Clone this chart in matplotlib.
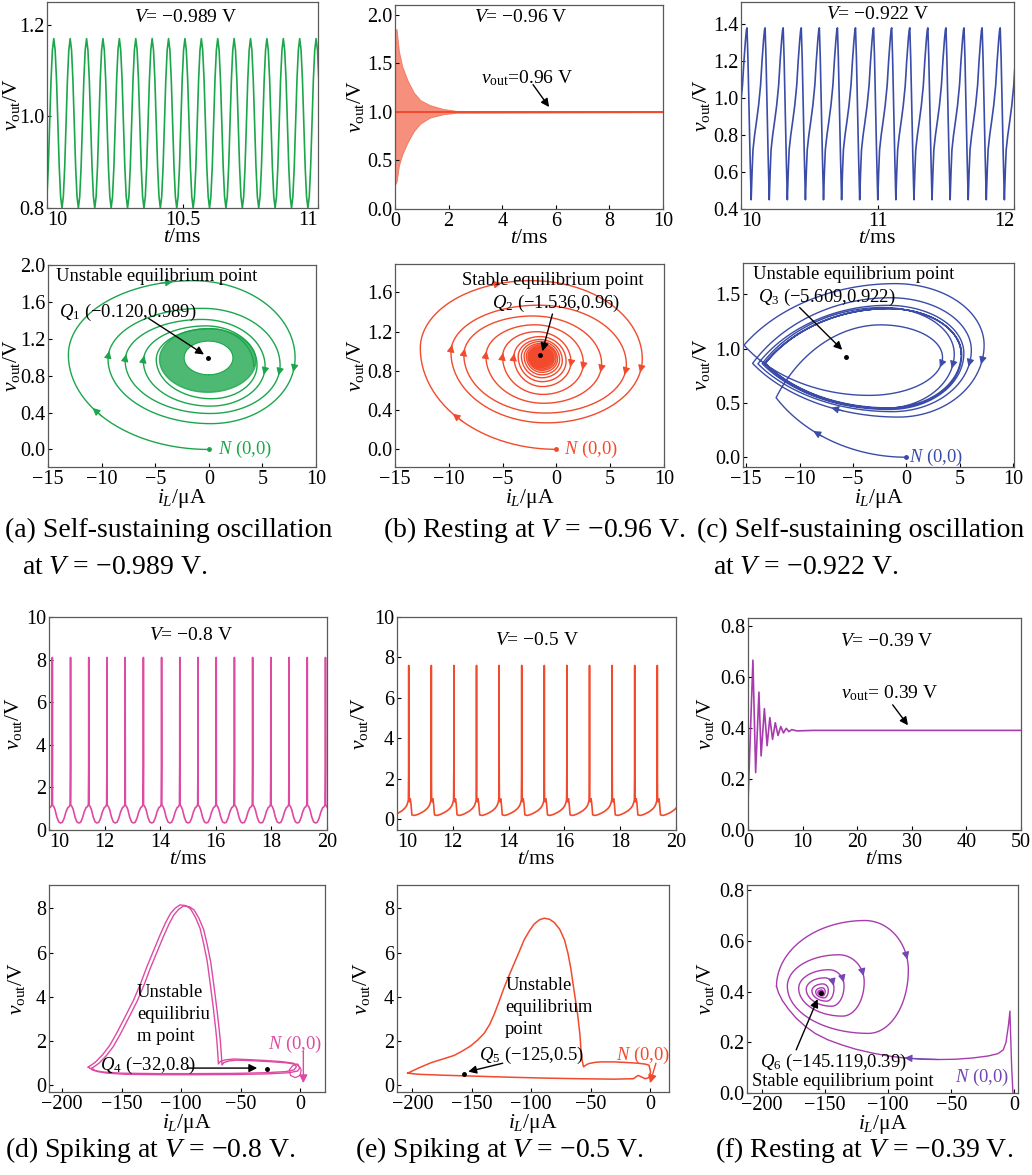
import numpy as np
import matplotlib
matplotlib.use("Agg")
import matplotlib.pyplot as plt

plt.rcParams.update({
    "font.family": ["Liberation Serif", "DejaVu Serif"],
    "mathtext.fontset": "custom",
    "mathtext.rm": "Liberation Serif",
    "mathtext.it": "Liberation Serif:italic",
    "mathtext.bf": "Liberation Serif:bold",
    "axes.unicode_minus": True,
})

GREEN = "#1ca64c"
RED = "#f24a2c"
BLUE = "#3a4ca8"
PINK = "#de4aa3"
PURPLE = "#a83cae"
PURPLE_ARROW = "#7246b4"

# ---- time series (one period, repeated) ----
a_t0, a_period = 10.025, 0.0605
a_phase = [0, 0.083, 0.167, 0.25, 0.333, 0.417, 0.5, 0.583, 0.667, 0.75, 0.833, 0.917]
a_shape = [1.17, 1.145, 1.08, 0.985, 0.89, 0.825, 0.80, 0.825, 0.89, 0.985, 1.08, 1.145]

b_env_t = [0, 0.06, 0.15, 0.27, 0.46, 0.7, 0.95, 1.3, 1.8, 2.3, 10]
b_env_hi = [1.85, 1.85, 1.62, 1.47, 1.33, 1.2, 1.12, 1.07, 1.03, 1.01, 1.005]
b_env_lo = [0.25, 0.28, 0.45, 0.56, 0.68, 0.8, 0.88, 0.94, 0.975, 0.99, 0.995]
b_steady = 1.0

c_t0, c_period = 10.044, 0.1325
c_phase = [0, 0.05, 0.11, 0.17, 0.23, 0.28, 0.33, 0.42, 0.52, 0.64, 0.75, 0.83, 0.92, 0.97]
c_shape = [1.38, 1.22, 0.95, 0.68, 0.45, 0.6, 0.72, 0.80, 0.87, 0.96, 1.07, 1.2, 1.32, 1.37]

d_t0, d_period = 10.12, 0.655
d_phase = [0, 0.004, 0.01, 0.03, 0.08, 0.15, 0.25, 0.35, 0.45, 0.55, 0.65, 0.75, 0.85, 0.93, 0.98, 0.995]
d_shape = [8.1, 3.0, 1.2, 1.15, 1.1, 0.95, 0.6, 0.38, 0.33, 0.36, 0.55, 0.85, 1.05, 1.1, 1.2, 3.0]

e_t0, e_period = 10.42, 0.81
e_phase = [0, 0.004, 0.012, 0.04, 0.07, 0.1, 0.14, 0.25, 0.4, 0.55, 0.7, 0.82, 0.9, 0.95, 0.985, 0.996]
e_shape = [7.6, 2.5, 0.95, 0.85, 1.0, 0.75, 0.2, 0.17, 0.22, 0.3, 0.4, 0.52, 0.64, 0.78, 0.95, 2.5]

f_ts_t = [0, 0.9, 1.4, 2.0, 2.4, 3.0, 3.5, 4.0, 4.5, 5.0, 5.5, 6.0, 6.5, 7.0, 7.5, 8.0, 9.0, 12, 50]
f_ts_v = [0.11, 0.665, 0.225, 0.54, 0.29, 0.475, 0.33, 0.44, 0.355, 0.42, 0.37, 0.405, 0.38,
          0.398, 0.385, 0.393, 0.388, 0.39, 0.39]

# ---- phase portraits: extremes of every loop (bottom, left, top, right) ----
a_bottom = [0.0, 0.28, 0.39, 0.47, 0.55]
a_left = [-13.1, -9.4, -7.8, -6.1, -4.9]
a_top = [1.83, 1.53, 1.41, 1.34, 1.31]
a_right = [8.05, 6.65, 5.25, 4.5, 4.2]
a_ring_outer = [-4.6, 1.31, 4.4, 0.62]
a_ring_inner = [-2.3, 1.175, 2.25, 0.81]

b_left = [-12.65, -9.8, -8.6, -6.55, -5.0, -3.95, -3.55, -3.25, -3.0, -2.8, -2.65, -2.52, -2.42,
          -2.33, -2.25, -2.18, -2.12, -2.06, -2.0, -1.95, -1.9, -1.84, -1.78, -1.72, -1.66, -1.6]
b_top = [1.72, 1.47, 1.36, 1.27, 1.2, 1.15, 1.12, 1.1, 1.08, 1.065, 1.05, 1.04, 1.03, 1.02, 1.012,
         1.005, 0.998, 0.992, 0.987, 0.983, 0.979, 0.975, 0.971, 0.968, 0.965, 0.962]
b_right = [7.98, 6.5, 4.2, 2.5, 1.35, 0.9, 0.55, 0.3, 0.1, -0.05, -0.2, -0.32, -0.43, -0.53, -0.62,
           -0.7, -0.78, -0.85, -0.92, -0.98, -1.05, -1.12, -1.2, -1.28, -1.35, -1.42]
b_bottom = [0.0, 0.27, 0.37, 0.47, 0.56, 0.64, 0.69, 0.73, 0.76, 0.785, 0.805, 0.82, 0.835, 0.848,
            0.86, 0.87, 0.88, 0.89, 0.9, 0.91, 0.92, 0.928, 0.936, 0.943, 0.95, 0.955]

c_bottom = [0.0, 0.57, 0.37, 0.42, 0.44, 0.45, 0.45, 0.455]
c_left = [-12.2, -15.2, -14.4, -13.9, -13.5, -13.3, -13.2, -13.2]
c_top = [1.22, 1.60, 1.47, 1.40, 1.38, 1.37, 1.37, 1.37]
c_right = [3.4, 7.3, 6.1, 5.4, 4.5, 5.2, 5.15, 5.15]

d_loop_x = [-178, -172, -166, -160, -154, -147, -140, -134, -129, -123, -117.6, -113, -109, -105,
            -101, -96, -92, -88, -84, -81, -78, -75.5, -73, -71, -70, -69.2, -68.6, -67, -63, -56,
            -42, -28, -15, -5.6, -3, -5, -12, -30, -56, -90, -120, -150, -165, -174, -178]
d_loop_y = [0.82, 1.05, 1.38, 1.8, 2.37, 3.1, 3.84, 4.6, 5.32, 6.1, 6.8, 7.35, 7.75, 8.0, 8.15,
            8.12, 7.97, 7.6, 7.09, 6.4, 5.6, 4.6, 3.55, 2.6, 2.07, 1.5, 0.97, 1.08, 1.15, 1.19,
            1.16, 1.12, 1.07, 1.0, 0.85, 0.7, 0.62, 0.57, 0.54, 0.53, 0.53, 0.55, 0.6, 0.68, 0.82]
d_curl_x = [-2, -6, -9, -8, -4, 0, 1, -2]
d_curl_y = [0.95, 0.9, 0.7, 0.45, 0.35, 0.45, 0.7, 0.95]

e_loop_x = [-204, -195, -184, -175, -165, -158, -151, -145, -139.5, -135, -131, -127, -123, -118.5,
            -114, -110, -106, -101.5, -97.5, -93, -89, -84.5, -80.7, -76, -72, -69, -66.6, -64, -61,
            -59, -58, -57, -56, -53, -51, -46, -41.5, -30, -19, -10, -4, -0.8, 0.5, -1, -4, -10,
            -14, -30, -60, -90, -120, -150, -175, -195, -204]
e_loop_y = [0.55, 0.78, 1.03, 1.18, 1.35, 1.55, 1.78, 2.05, 2.36, 2.75, 3.23, 3.8, 4.39, 4.98,
            5.55, 6.05, 6.57, 6.98, 7.29, 7.48, 7.55, 7.5, 7.36, 7.05, 6.57, 5.95, 5.26, 4.3, 3.23,
            2.3, 1.5, 1.1, 0.84, 0.95, 0.99, 1.04, 1.06, 1.06, 1.03, 1.0, 0.96, 0.91, 0.6, 0.35,
            0.3, 0.45, 0.3, 0.28, 0.3, 0.33, 0.37, 0.42, 0.46, 0.5, 0.55]

f_tr_x = [-1.0, -2.0, -3.0, -3.4, -4.5, -6.5, -8.7, -13, -20.6, -33, -47, -60, -74, -87, -100,
          -113, -126, -137, -148, -158, -166, -173, -179, -184, -187, -188.6]
f_tr_y = [0.0, 0.1, 0.25, 0.323, 0.27, 0.2, 0.17, 0.155, 0.146, 0.138, 0.133, 0.132, 0.133, 0.138,
          0.146, 0.158, 0.173, 0.19, 0.21, 0.235, 0.264, 0.295, 0.33, 0.365, 0.395, 0.42]
f_left = [-188.6, -180, -171, -165, -160.5, -157.5, -155.8, -154.7, -154]
f_top = [0.68, 0.545, 0.486, 0.454, 0.43, 0.415, 0.406, 0.401, 0.398]
f_right = [-84, -119, -135, -143, -147.5, -150, -151.5, -152.3, -152.7]
f_bottom = [0.235, 0.303, 0.342, 0.362, 0.375, 0.383, 0.388, 0.391, 0.393]


def tile(t0, period, phase, shape, t_start, t_end):
    k0 = int(np.floor((t_start - t0) / period)) - 1
    k1 = int(np.ceil((t_end - t0) / period)) + 1
    ts, vs = [], []
    for k in range(k0, k1):
        ts.extend(t0 + (k + np.asarray(phase)) * period)
        vs.extend(shape)
    return np.array(ts), np.array(vs)


def build_loop(left, top, right, bottom, start, p_tb, q_l, q_r, first="B"):
    seq = []
    for k in range(len(left)):
        if first == "B":
            seq += [("B", bottom[k]), ("L", left[k]), ("T", top[k]), ("R", right[k])]
        else:
            seq += [("L", left[k]), ("T", top[k]), ("R", right[k]), ("B", bottom[k])]
    xs, ys, kinds = [], [], []
    for i, (kind, v) in enumerate(seq):
        a = seq[i - 1] if i > 0 else seq[i + 3]
        b = seq[i + 1] if i < len(seq) - 1 else seq[i - 3]
        nb = {a[0]: a[1], b[0]: b[1]}
        if kind in "BT":
            xs.append(nb["L"] + (nb["R"] - nb["L"]) * p_tb)
            ys.append(v)
        else:
            xs.append(v)
            ys.append(nb["B"] + (nb["T"] - nb["B"]) * (q_l if kind == "L" else q_r))
        kinds.append(kind)
    xs[0], ys[0] = start
    return xs, ys, kinds


def quarters(xs, ys, kinds, w_l=0.0, w_r=0.0, n=30):
    s = np.linspace(0, 1, n)
    c, sn = np.cos(s * np.pi / 2), np.sin(s * np.pi / 2)
    segs = []
    for i in range(len(xs) - 1):
        x0, y0, x1, y1 = xs[i], ys[i], xs[i + 1], ys[i + 1]
        if kinds[i] in "BT":
            w = w_l if kinds[i + 1] == "L" else w_r
            f = (1 - w) * sn + w * s
            x = x0 + (x1 - x0) * f
            y = y1 + (y0 - y1) * c
        else:
            w = w_l if kinds[i] == "L" else w_r
            f = (1 - w) * c + w * (1 - s)
            x = x1 + (x0 - x1) * f
            y = y0 + (y1 - y0) * sn
        segs.append(np.column_stack([x, y]))
    return segs


def oval(l, t, r, b, p_tb, q_l, q_r):
    xs = [l + (r - l) * p_tb, l, l + (r - l) * p_tb, r, l + (r - l) * p_tb]
    ys = [b, b + (t - b) * q_l, t, b + (t - b) * q_r, b]
    return np.vstack(quarters(xs, ys, ["B", "L", "T", "R", "B"]))


def head(ax, seg, s, color, ms=11):
    i = int(round(s * (len(seg) - 1)))
    i = min(max(i, 0), len(seg) - 3)
    ax.annotate("", xy=seg[i + 2], xytext=seg[i],
                arrowprops=dict(arrowstyle="-|>", color=color, lw=0.8,
                                shrinkA=0, shrinkB=0, mutation_scale=ms))


def pointer(ax, start, end, color="black"):
    ax.annotate("", xy=end, xytext=start,
                arrowprops=dict(arrowstyle="-|>", color=color, lw=1.0,
                                shrinkA=0, shrinkB=0, mutation_scale=12))


W, H = 1032, 1175
fig = plt.figure(figsize=(W / 100, H / 100), dpi=100)


def add_ax(l, r, t, b):
    return fig.add_axes([l / W, 1 - b / H, (r - l) / W, (b - t) / H])


def tick_text(v):
    return ("%g" % v).replace("-", "−")


def style(ax, xlim, ylim, xticks, yticks, xlabel, ylab_px, first="center", last="center"):
    ax.set_xlim(*xlim)
    ax.set_ylim(*ylim)
    ax.set_xticks(xticks, labels=[tick_text(v) for v in xticks])
    ax.set_yticks(yticks)
    ax.set_xlabel(xlabel, fontsize=15.5, labelpad=-1)
    ax.set_ylabel(r"$v_{\rm out}$/V", fontsize=15.5, va="center")
    pos = ax.get_position()
    ax.yaxis.set_label_coords((ylab_px - pos.x0 * W) / (pos.width * W), 0.5)
    ax.tick_params(direction="in", length=3, width=0.8, labelsize=14.5, pad=2)
    labels = ax.get_xticklabels()
    labels[0].set_horizontalalignment(first)
    labels[-1].set_horizontalalignment(last)
    for sp in ax.spines.values():
        sp.set_color("#5a5a5a")
        sp.set_linewidth(0.9)


TXT = 13.4
VT = 14
IL = r"$i_L$/μA"
TMS = r"$t$/ms"

# (a) time series
ax = add_ax(47, 318, 2, 208)
t, v = tile(a_t0, a_period, a_phase, a_shape, 10, 11)
ax.plot(t, v, color=GREEN, lw=1.2)
style(ax, (10, 11), (0.8, 1.25), [10, 10.5, 11], [0.8, 1.0, 1.2], TMS, 11, first="left", last="right")
ax.text(0.51, 0.925, r"$V$= −0.989 V", transform=ax.transAxes, ha="center", va="center", fontsize=VT)

# (b) time series
ax = add_ax(395, 663, 5, 209)
ax.fill_between(b_env_t, b_env_lo, b_env_hi, color=RED, alpha=0.62, lw=0.6)
ax.plot([0, 10], [b_steady, b_steady], color=RED, lw=1.4)
style(ax, (0, 10), (0, 2.1), [0, 2, 4, 6, 8, 10], [0.0, 0.5, 1.0, 1.5, 2.0], TMS, 356)
ax.text(0.47, 0.94, r"$V$= −0.96 V", transform=ax.transAxes, ha="center", va="center", fontsize=VT)
ax.text(3.2, 1.35, r"$v_{\rm out}$=0.96 V", ha="left", va="center", fontsize=VT)
pointer(ax, (5.15, 1.28), (5.75, 1.05))

# (c) time series
ax = add_ax(741, 1014, 2, 209)
t, v = tile(c_t0, c_period, c_phase, c_shape, 10, 12)
ax.plot(t, v, color=BLUE, lw=1.2)
style(ax, (10, 12), (0.4, 1.52), [10, 11, 12], [0.4, 0.6, 0.8, 1.0, 1.2, 1.4], TMS, 702,
      first="left", last="right")
ax.text(0.5, 0.94, r"$V$= −0.922 V", transform=ax.transAxes, ha="center", va="center", fontsize=VT)

# (a) phase portrait
ax = add_ax(48, 316, 265, 467)
xs, ys, ks = build_loop(a_left, a_top, a_right, a_bottom, (0, 0), 0.55, 0.56, 0.46)
segs = quarters(xs, ys, ks)
path = np.vstack(segs)
ax.plot(path[:, 0], path[:, 1], color=GREEN, lw=1.0)
ring_o = oval(*a_ring_outer, 0.5, 0.52, 0.5)
ring_i = oval(*a_ring_inner, 0.5, 0.5, 0.5)
ax.fill(ring_o[:, 0], ring_o[:, 1], color=GREEN, alpha=0.78, lw=1.0)
ax.fill(ring_i[:, 0], ring_i[:, 1], color="white", lw=0, zorder=2)
ax.plot(ring_i[:, 0], ring_i[:, 1], color=GREEN, lw=0.8, zorder=2)
head(ax, segs[0], 0.55, GREEN)
head(ax, segs[1], 0.82, GREEN)
for k in (0, 1, 2):
    head(ax, segs[4 * k + 3], 0.06, GREEN)
for k in (1, 2, 3):
    head(ax, segs[4 * k + 1], 0.04, GREEN)
ax.plot([0], [0], "o", color=GREEN, ms=2.5)
ax.plot([-0.12], [0.989], "o", color="black", ms=2.5, zorder=5)
style(ax, (-15, 10), (-0.19, 2.0), [-15, -10, -5, 0, 5, 10], [0.0, 0.4, 0.8, 1.2, 1.6, 2.0], IL, 11)
ax.text(-14.3, 1.88, "Unstable equilibrium point", fontsize=TXT, va="center")
ax.text(-14.0, 1.49, r"$Q_1$ (−0.120,0.989)", fontsize=TXT, va="center")
pointer(ax, (-5.6, 1.42), (-0.45, 1.03))
ax.text(0.85, 0.0, r"$N$ (0,0)", color=GREEN, fontsize=TXT, va="center")

# (b) phase portrait
ax = add_ax(395, 664, 264, 467)
xs, ys, ks = build_loop(b_left, b_top, b_right, b_bottom, (0, 0), 0.5, 0.6, 0.45)
segs = quarters(xs, ys, ks)
path = np.vstack(segs)
ax.plot(path[:, 0], path[:, 1], color=RED, lw=1.0)
head(ax, segs[0], 0.5, RED)
head(ax, segs[1], 0.75, RED)
for k in range(5):
    head(ax, segs[4 * k + 3], 0.06, RED)
for k in range(1, 6):
    head(ax, segs[4 * k + 1], 0.04, RED)
ax.plot([0], [0], "o", color=RED, ms=2.5)
ax.plot([-1.536], [0.96], "o", color="black", ms=2.5, zorder=5)
style(ax, (-15, 10), (-0.18, 1.89), [-15, -10, -5, 0, 5, 10], [0.0, 0.4, 0.8, 1.2, 1.6], IL, 356)
ax.text(-0.3, 1.72, "Stable equilibrium point", fontsize=TXT, ha="center", va="center")
ax.text(0.0, 1.49, r"$Q_2$ (−1.536,0.96)", fontsize=TXT, ha="center", va="center")
pointer(ax, (-0.37, 1.38), (-1.3, 1.0))
ax.text(0.7, 0.0, r"$N$ (0,0)", color=RED, fontsize=TXT, va="center")

# (c) phase portrait
ax = add_ax(743, 1014, 263, 467)
xs, ys, ks = build_loop(c_left, c_top, c_right, c_bottom, (0, 0), 0.63, 0.45, 0.54)
segs = quarters(xs, ys, ks, w_l=0.55)
path = np.vstack(segs)
ax.plot(path[:, 0], path[:, 1], color=BLUE, lw=1.0)
head(ax, segs[0], 0.55, BLUE)
head(ax, segs[8], 0.3, BLUE)
for k in (0, 1, 2, 4):
    head(ax, segs[4 * k + 3], 0.1, BLUE)
ax.plot([0], [0], "o", color=BLUE, ms=2.5)
ax.plot([-5.609], [0.922], "o", color="black", ms=2.5, zorder=5)
style(ax, (-15.3, 10.1), (-0.09, 1.79), [-15, -10, -5, 0, 5, 10], [0.0, 0.5, 1.0, 1.5], IL, 702)
ax.text(-14.4, 1.68, "Unstable equilibrium point", fontsize=TXT, va="center")
ax.text(-13.9, 1.47, r"$Q_3$ (−5.609,0.922)", fontsize=TXT, va="center")
pointer(ax, (-10.0, 1.38), (-6.0, 0.99))
ax.text(0.3, 0.0, r"$N$ (0,0)", color=BLUE, fontsize=TXT, va="center")

# (d) time series
ax = add_ax(49, 327, 617, 830)
t, v = tile(d_t0, d_period, d_phase, d_shape, 10, 20)
ax.plot(t, v, color=PINK, lw=1.2)
style(ax, (10, 20), (0, 10), [10, 12, 14, 16, 18, 20], [0, 2, 4, 6, 8, 10], TMS, 13, first="left")
ax.text(0.51, 0.915, r"$V$= −0.8 V", transform=ax.transAxes, ha="center", va="center", fontsize=VT)

# (e) time series
ax = add_ax(397, 676, 617, 830)
t, v = tile(e_t0, e_period, e_phase, e_shape, 10, 20)
ax.plot(t, v, color=RED, lw=1.2)
style(ax, (10, 20), (-0.55, 10), [10, 12, 14, 16, 18, 20], [0, 2, 4, 6, 8, 10], TMS, 360, first="left")
ax.text(0.5, 0.89, r"$V$= −0.5 V", transform=ax.transAxes, ha="center", va="center", fontsize=VT)

# (f) time series
ax = add_ax(748, 1021, 618, 830)
ax.plot(f_ts_t, f_ts_v, color=PURPLE, lw=1.2)
style(ax, (0, 50), (0, 0.83), [0, 10, 20, 30, 40, 50], [0.0, 0.2, 0.4, 0.6, 0.8], TMS, 705)
ax.text(0.51, 0.89, r"$V$= −0.39 V", transform=ax.transAxes, ha="center", va="center", fontsize=VT)
ax.text(17, 0.537, r"$v_{\rm out}$= 0.39 V", ha="left", va="center", fontsize=VT)
pointer(ax, (26.5, 0.49), (29.3, 0.41))

# (d) phase portrait
ax = add_ax(49, 325, 885, 1092)
ax.plot(d_loop_x, d_loop_y, color=PINK, lw=1.0)
ax.plot(np.array(d_loop_x) + 3.0, np.array(d_loop_y) - 0.05, color=PINK, lw=1.0)
ax.plot(d_curl_x, d_curl_y, color=PINK, lw=0.9)
ax.plot([-28], [0.76], "o", color="black", ms=2.5, zorder=5)
style(ax, (-211, 21), (-0.3, 9.05), [-200, -150, -100, -50, 0], [0, 2, 4, 6, 8], IL, 16)
for yy, line in zip([4.21, 3.2, 2.2], ["Unstable", "equilibriu", "m point"]):
    ax.text(-137, yy, line, fontsize=TXT, va="center")
ax.text(-168, 0.9, r"$Q_4$ (−32,0.8)", fontsize=TXT, va="center")
pointer(ax, (-95, 0.78), (-36, 0.78))
ax.text(-27, 1.87, r"$N$ (0,0)", color=PINK, fontsize=TXT, va="center")
pointer(ax, (2.8, 1.55), (2.8, 0.1), color=PINK)

# (e) phase portrait
ax = add_ax(397, 669, 885, 1092)
ax.plot(e_loop_x, e_loop_y, color=RED, lw=1.1)
ax.plot([-157], [0.52], "o", color="black", ms=2.5, zorder=5)
style(ax, (-213, 16), (-0.3, 9.05), [-200, -150, -100, -50, 0], [0, 2, 4, 6, 8], IL, 362)
for yy, line in zip([4.53, 3.52, 2.52], ["Unstable", "equilibrium", "point"]):
    ax.text(-122, yy, line, fontsize=TXT, va="center")
ax.text(-144, 1.35, r"$Q_5$ (−125,0.5)", fontsize=TXT, va="center")
pointer(ax, (-124, 1.0), (-153, 0.62))
ax.text(-29, 1.35, r"$N$ (0,0)", color=RED, fontsize=TXT, va="center")
pointer(ax, (5, 1.0), (0, 0.1), color=RED)

# (f) phase portrait
ax = add_ax(747, 1018, 885, 1093)
xs, ys, ks = build_loop(f_left, f_top, f_right, f_bottom, (-188.6, 0.42), 0.67, 0.6, 0.56, first="L")
segs = quarters(xs, ys, ks)
path = np.vstack(segs)
ax.plot(f_tr_x, f_tr_y, color=PURPLE, lw=1.0)
ax.plot(path[:, 0], path[:, 1], color=PURPLE, lw=1.0)
for k in range(4):
    head(ax, segs[4 * k + 1], 0.8, PURPLE_ARROW)
tr = np.column_stack([f_tr_x, f_tr_y])
head(ax, tr[11:15], 0.0, PURPLE_ARROW)
ax.plot([-153], [0.395], "o", color="black", ms=2.5, zorder=5)
style(ax, (-212, 3), (0.0, 0.82), [-200, -150, -100, -50, 0], [0.0, 0.2, 0.4, 0.6, 0.8], IL, 705)
ax.text(-202, 0.12, r"$Q_6$ (−145.119,0.39)", fontsize=TXT, va="center")
ax.text(-208, 0.045, "Stable equilibrium point", fontsize=TXT, va="center")
pointer(ax, (-173, 0.17), (-156, 0.37))
ax.text(-47, 0.06, r"$N$ (0,0)", color=PURPLE_ARROW, fontsize=TXT, va="center")

# captions
CAP = 20
fig.text(5 / W, 1 - 530 / H, "(a) Self-sustaining oscillation", fontsize=CAP, va="center")
fig.text(22 / W, 1 - 567 / H, r"at $V$ = −0.989 V.", fontsize=CAP, va="center")
fig.text(383 / W, 1 - 530 / H, r"(b) Resting at $V$ = −0.96 V.", fontsize=CAP, va="center")
fig.text(697 / W, 1 - 530 / H, "(c) Self-sustaining oscillation", fontsize=CAP, va="center")
fig.text(713 / W, 1 - 567 / H, r"at $V$ = −0.922 V.", fontsize=CAP, va="center")
fig.text(5 / W, 1 - 1150 / H, r"(d) Spiking at $V$ = −0.8 V.", fontsize=CAP, va="center")
fig.text(355 / W, 1 - 1150 / H, r"(e) Spiking at $V$ = −0.5 V.", fontsize=CAP, va="center")
fig.text(715 / W, 1 - 1150 / H, r"(f) Resting at $V$ = −0.39 V.", fontsize=CAP, va="center")

fig.savefig("out.png", dpi=100)
